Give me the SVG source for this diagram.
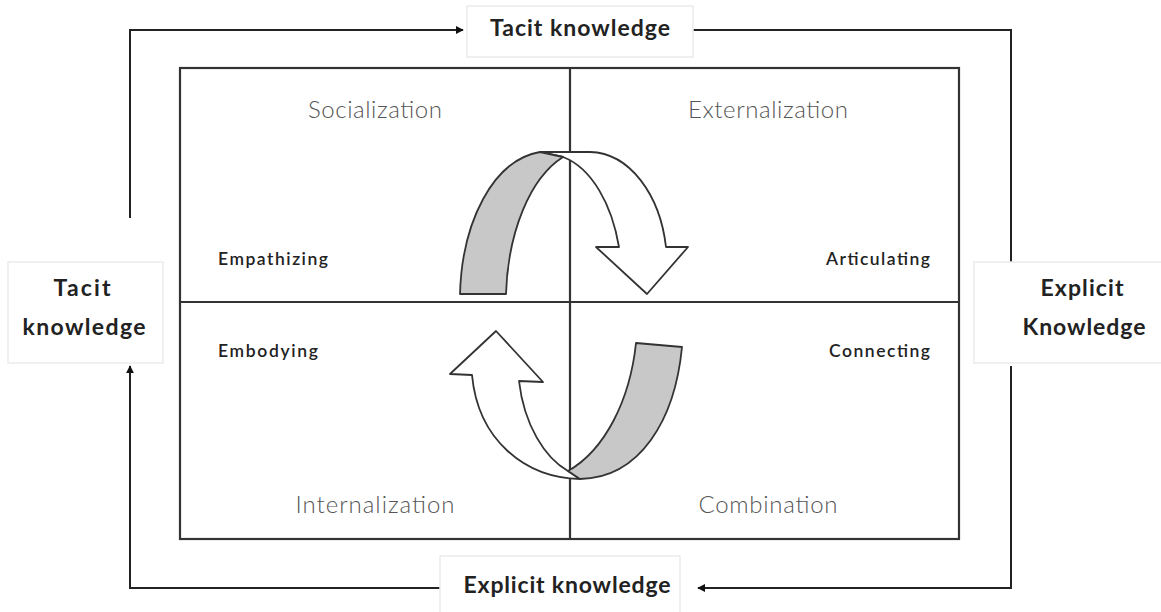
<svg xmlns="http://www.w3.org/2000/svg" width="1161" height="612" viewBox="0 0 1161 612">
<style>
.bg{fill:#fff}
.box{fill:#fff;stroke:#ebebeb;stroke-width:1.5}
.frame{fill:none;stroke:#333;stroke-width:2.2}
.con{fill:none;stroke:#222;stroke-width:2}
.big{font-family:Lato,"Liberation Sans",sans-serif;font-weight:bold;font-size:23px;fill:#222;text-anchor:middle}
.quad{font-family:Lato,"Liberation Sans",sans-serif;font-weight:300;font-size:24px;fill:#555;text-anchor:middle}
.small{font-family:Lato,"Liberation Sans",sans-serif;font-weight:600;font-size:17.5px;fill:#222}
.rib{stroke:#333;stroke-width:1.8;stroke-linejoin:round}
</style>
<defs>
<marker id="ah" viewBox="0 0 10 10" refX="9" refY="5" markerWidth="8" markerHeight="8" markerUnits="userSpaceOnUse" orient="auto">
<path d="M0,0 L10,5 L0,10 Z" fill="#111"/>
</marker>
</defs>
<rect class="bg" x="0" y="0" width="1161" height="612"/>

<g id="connectors">
<polyline class="con" points="130,218 130,30 463,30" marker-end="url(#ah)"/>
<polyline class="con" points="693,30 1011,30 1011,272" marker-end="url(#ah)"/>
<polyline class="con" points="1011,366 1011,588 698,588" marker-end="url(#ah)"/>
<polyline class="con" points="440,588 130,588 130,366" marker-end="url(#ah)"/>
</g>

<g id="node-top">
<rect class="box" x="467" y="6" width="226" height="51"/>
<text class="big" x="580" y="36" textLength="180" lengthAdjust="spacing">Tacit knowledge</text>
</g>
<g id="node-left">
<rect class="box" x="8" y="262" width="155" height="101"/>
<text class="big" x="82" y="296" textLength="57" lengthAdjust="spacing">Tacit</text>
<text class="big" x="84" y="335" textLength="123" lengthAdjust="spacing">knowledge</text>
</g>
<g id="node-right">
<rect class="box" x="974" y="262" width="190" height="101"/>
<text class="big" x="1082" y="296" textLength="83" lengthAdjust="spacing">Explicit</text>
<text class="big" x="1084" y="335" textLength="123" lengthAdjust="spacing">Knowledge</text>
</g>
<g id="node-bottom">
<rect class="box" x="440" y="556" width="240" height="60"/>
<text class="big" x="567" y="593" textLength="207" lengthAdjust="spacing">Explicit knowledge</text>
</g>

<g id="matrix">
<rect class="frame" x="180" y="68" width="779" height="471"/>
<line class="frame" x1="570" y1="68" x2="570" y2="539"/>
<line class="frame" x1="180" y1="302" x2="959" y2="302"/>
<text class="quad" x="375" y="118" textLength="134" lengthAdjust="spacing">Socialization</text>
<text class="quad" x="768" y="118" textLength="160" lengthAdjust="spacing">Externalization</text>
<text class="quad" x="375" y="513" textLength="159" lengthAdjust="spacing">Internalization</text>
<text class="quad" x="768" y="513" textLength="139" lengthAdjust="spacing">Combination</text>
<text class="small" x="218" y="265" textLength="110" lengthAdjust="spacing">Empathizing</text>
<text class="small" x="826" y="265" textLength="104" lengthAdjust="spacing">Articulating</text>
<text class="small" x="218" y="357" textLength="100" lengthAdjust="spacing">Embodying</text>
<text class="small" x="829" y="357" textLength="101" lengthAdjust="spacing">Connecting</text>
</g>

<g id="cycle-top">
<path class="rib" fill="#fff" d="M540,152 L590,152 C630,153 660,195 666,247 L688,247 L647,294 L596,247 L619,247 C612,205 592,168 563,157 Z"/>
<path class="rib" fill="#c8c8c8" d="M460,294 C462,222 493,160 540,152 L563,157 C530,178 508,232 506,294 Z"/>
</g>
<g id="cycle-bottom">
<path class="rib" fill="#fff" d="M496,331 L543,382 L519,381 C524,425 545,458 568,471 L580,479 C525,478 478,440 472,375 L450,374 Z"/>
<path class="rib" fill="#c8c8c8" d="M568,471 C605,450 630,400 636,343 L682,347 C675,420 640,478 580,479 Z"/>
</g>
</svg>
